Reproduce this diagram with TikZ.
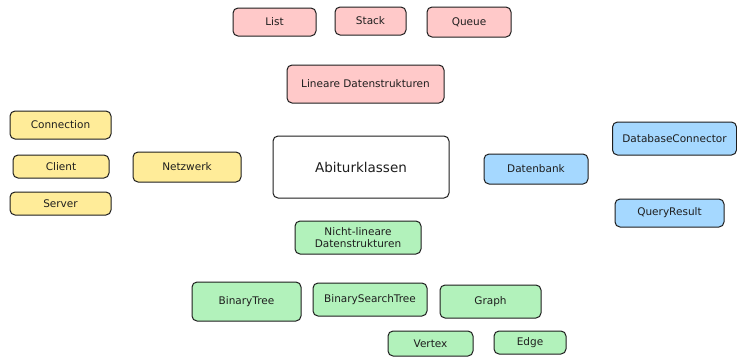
\documentclass[tikz,border=0pt]{standalone}
\usepackage{fontspec}
\setmainfont{DejaVu Sans}
\definecolor{linfill}{HTML}{FFC9C9}
\definecolor{netfill}{HTML}{FFEC99}
\definecolor{dbfill}{HTML}{A5D8FF}
\definecolor{treefill}{HTML}{B2F2BB}
\definecolor{pen}{HTML}{1E1E1E}
\tikzset{
  klasse/.style={draw=pen, line width=1pt, rounded corners=5pt, inner sep=0pt,
    align=center, font=\fontsize{10.5}{12}\selectfont, text=pen},
  linbox/.style={klasse, fill=linfill},
  netbox/.style={klasse, fill=netfill},
  dbbox/.style={klasse, fill=dbfill},
  treebox/.style={klasse, fill=treefill},
}
\begin{document}
\begin{tikzpicture}[x=1pt,y=-1pt]
\useasboundingbox[fill=white] (0,0) rectangle (737,357);

% lineare Datenstrukturen
\node[linbox, minimum width=83pt, minimum height=28pt] (list) at (274.5,22) {List};
\node[linbox, minimum width=71pt, minimum height=28pt] (stack) at (370.5,21) {Stack};
\node[linbox, minimum width=84pt, minimum height=30pt] (queue) at (469,22) {Queue};
\node[linbox, minimum width=157pt, minimum height=38pt] (linear) at (365.5,84) {Lineare Datenstrukturen};

% Netzwerk
\node[netbox, minimum width=101pt, minimum height=28pt] (connection) at (60.5,125) {Connection};
\node[netbox, minimum width=96pt, minimum height=23pt] (client) at (61,166.5) {Client};
\node[netbox, minimum width=101pt, minimum height=23pt] (server) at (60.5,203.5) {Server};
\node[netbox, minimum width=108pt, minimum height=30pt] (netzwerk) at (187,167) {Netzwerk};

% Mitte
\node[klasse, fill=white, minimum width=176pt, minimum height=62pt,
  font=\fontsize{13.5}{15}\selectfont] (abitur) at (361,167) {Abiturklassen};

% Datenbank
\node[dbbox, minimum width=104pt, minimum height=30pt] (datenbank) at (536,169) {Datenbank};
\node[dbbox, minimum width=124pt, minimum height=33pt] (connector) at (674.5,138.5) {DatabaseConnector};
\node[dbbox, minimum width=109pt, minimum height=28pt] (result) at (669.5,213) {QueryResult};

% nicht-lineare Datenstrukturen
\node[treebox, minimum width=126pt, minimum height=33pt] (nonlinear) at (358,237.5) {Nicht-lineare\\Datenstrukturen};
\node[treebox, minimum width=109pt, minimum height=39pt] (bintree) at (246.5,301.5) {BinaryTree};
\node[treebox, minimum width=114pt, minimum height=33pt] (bstree) at (370,299.5) {BinarySearchTree};
\node[treebox, minimum width=101pt, minimum height=33pt] (graph) at (490.5,301.5) {Graph};
\node[treebox, minimum width=85pt, minimum height=25pt] (vertex) at (430.5,343.5) {Vertex};
\node[treebox, minimum width=72pt, minimum height=23pt] (edge) at (530,342.5) {Edge};

\end{tikzpicture}
\end{document}
